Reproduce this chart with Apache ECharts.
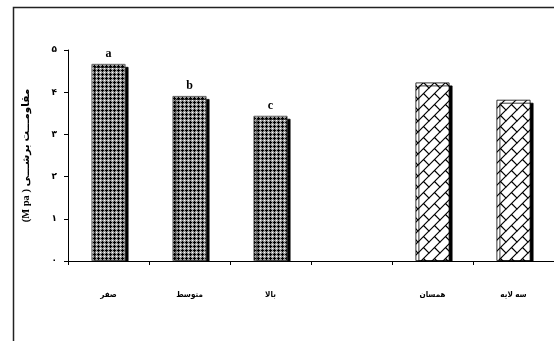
<!DOCTYPE html>
<html>
<head>
<meta charset="utf-8">
<script src="https://cdn.jsdelivr.net/npm/echarts@6/dist/echarts.min.js"></script>
<style>
html,body{margin:0;padding:0;background:#fff;}
#c{width:554px;height:341px;}
</style>
</head>
<body>
<div id="c"></div>
<script>
var categories = ['صفر', 'متوسط', 'بالا', '', 'همسان', 'سه لایه'];
var values = [4.67, 3.91, 3.44, null, 4.23, 3.82];
var letters = ['a', 'b', 'c', '', '', ''];
var patternKind = ['cross', 'cross', 'cross', 'cross', 'brick', 'brick'];
var yTicks = ['۰', '۱', '۲', '۳', '۴', '۵'];
var yName = '(M pa ) مقاومـــت برشـــی';

function crossPattern() {
  var c = document.createElement('canvas');
  c.width = 4; c.height = 4;
  var g = c.getContext('2d');
  g.fillStyle = '#9a9a9a'; g.fillRect(0, 0, 4, 4);
  g.fillStyle = '#ffffff'; g.fillRect(0, 0, 1, 1);
  g.fillStyle = '#000000';
  g.fillRect(2, 1, 1, 3);
  g.fillRect(1, 2, 3, 1);
  return c;
}
function brickPattern() {
  var s = 11;
  var c = document.createElement('canvas');
  c.width = s; c.height = s;
  var g = c.getContext('2d');
  g.fillStyle = '#ffffff'; g.fillRect(0, 0, s, s);
  g.strokeStyle = '#000'; g.lineWidth = 1.2;
  g.beginPath();
  g.moveTo(-1, s + 1); g.lineTo(s + 1, -1);
  g.moveTo(s / 2, s / 2); g.lineTo(s + 1, s + 1);
  g.moveTo(-1, -1); g.lineTo(0.5, 0.5);
  g.stroke();
  return c;
}
var pats = { cross: crossPattern(), brick: brickPattern() };

var data = values.map(function (v, i) {
  return {
    value: v,
    itemStyle: {
      color: { image: pats[patternKind[i]], repeat: 'repeat' },
      borderColor: patternKind[i] === 'brick' ? '#000' : '#444',
      borderWidth: 0.8,
      shadowColor: '#000',
      shadowOffsetX: 3,
      shadowOffsetY: 3,
      shadowBlur: 0
    },
    label: { show: !!letters[i], formatter: letters[i] }
  };
});

var font = "'Liberation Serif','DejaVu Serif','DejaVu Sans'";
var arFont = "'DejaVu Sans Condensed','DejaVu Sans'";
var chart = echarts.init(document.getElementById('c'), null, { renderer: 'canvas' });
chart.setOption({
  animation: false,
  backgroundColor: '#fff',
  grid: { left: 68, right: -3, top: 50, bottom: 80, containLabel: false },
  graphic: [{
    type: 'rect', silent: true, z: 1,
    shape: { x: 13.5, y: 7.5, width: 700, height: 500 },
    style: { fill: null, stroke: '#222', lineWidth: 1.5 }
  }, {
    type: 'rect', silent: true, z: 5,
    shape: { x: 69, y: 261.5, width: 500, height: 6 },
    style: { fill: '#fff' }
  }],
  xAxis: {
    type: 'category',
    z: 10,
    data: categories,
    axisLine: { lineStyle: { color: '#000', width: 1 } },
    axisTick: { show: true, length: 4, lineStyle: { color: '#000' } },
    axisLabel: { color: '#000', fontFamily: arFont, fontWeight: 'bold', fontSize: 8, margin: 30 },
    splitLine: { show: false }
  },
  yAxis: {
    type: 'value',
    z: 10,
    min: 0, max: 5, interval: 1,
    name: yName,
    nameLocation: 'middle',
    nameRotate: 90,
    nameGap: 36,
    nameTextStyle: { color: '#000', fontFamily: font, fontWeight: 'bold', fontSize: 10.5 },
    axisLine: { show: true, lineStyle: { color: '#000', width: 1 } },
    axisTick: { show: true, length: 4, lineStyle: { color: '#000' } },
    axisLabel: {
      color: '#000', fontFamily: font, fontWeight: 'bold', fontSize: 9, margin: 11,
      formatter: function (v) { return yTicks[Math.round(v)]; }
    },
    splitLine: { show: false }
  },
  series: [{
    type: 'bar',
    z: 2,
    data: data,
    barWidth: 34,
    label: {
      position: 'top', distance: 4, color: '#000',
      fontFamily: font, fontWeight: 'bold', fontSize: 12
    }
  }]
});
</script>
</body>
</html>
